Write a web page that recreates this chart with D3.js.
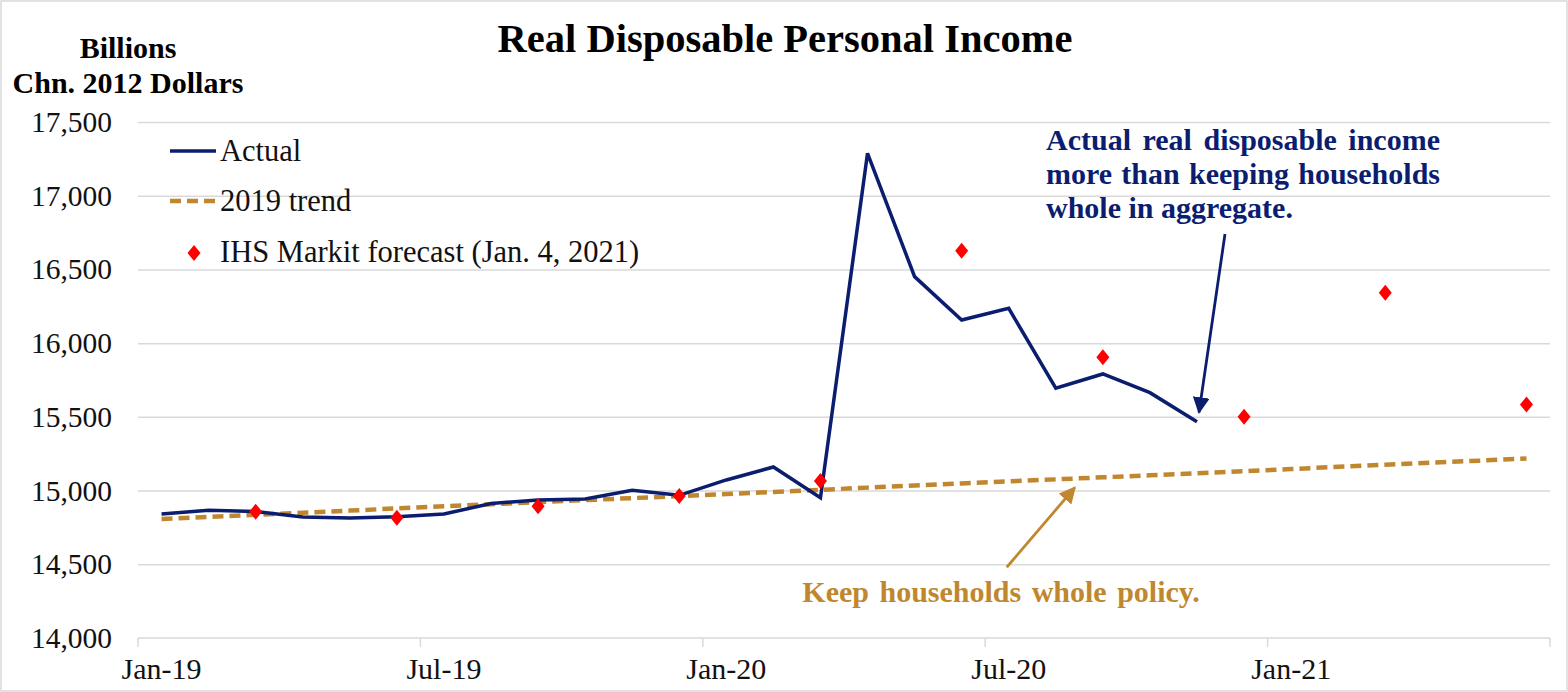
<!DOCTYPE html>
<html>
<head>
<meta charset="utf-8">
<script src="https://cdn.jsdelivr.net/npm/d3@7"></script>
<style>
  body { margin: 0; background: #fff; }
  svg { display: block; font-family: "Liberation Serif", "Times New Roman", serif; }
</style>
</head>
<body>
<svg id="chart" width="1568" height="692"></svg>
<script>
// months on the category axis (Jan-19 .. Jun-21)
const months = [
  "Jan-19", "Feb-19", "Mar-19", "Apr-19", "May-19", "Jun-19",
  "Jul-19", "Aug-19", "Sep-19", "Oct-19", "Nov-19", "Dec-19",
  "Jan-20", "Feb-20", "Mar-20", "Apr-20", "May-20", "Jun-20",
  "Jul-20", "Aug-20", "Sep-20", "Oct-20", "Nov-20", "Dec-20",
  "Jan-21", "Feb-21", "Mar-21", "Apr-21", "May-21", "Jun-21"
];
const xLabels = ["Jan-19", "Jul-19", "Jan-20", "Jul-20", "Jan-21"];
const yTicks = [14000, 14500, 15000, 15500, 16000, 16500, 17000, 17500];

// actual real disposable personal income, Jan-19 .. Nov-20
const actual = [
  14841, 14866, 14858, 14821, 14814, 14822, 14841, 14912, 14936, 14943, 15002, 14968,
  15072, 15160, 14951, 17288, 16451, 16157, 16236, 15694, 15791, 15664, 15467
];

// 2019 trend, Jan-19 .. Jun-21
const trend = [
  14808, 14822, 14836, 14850, 14864, 14879, 14893, 14907, 14921, 14935,
  14949, 14963, 14977, 14991, 15005, 15020, 15034, 15048, 15062, 15076,
  15090, 15104, 15118, 15132, 15146, 15161, 15175, 15189, 15203, 15217
];

// IHS Markit forecast (quarterly)
const forecastMonths = ["Mar-19", "Jun-19", "Sep-19", "Dec-19", "Mar-20",
                        "Jun-20", "Sep-20", "Dec-20", "Mar-21", "Jun-21"];
const forecastValues = [14857, 14816, 14893, 14964, 15065,
                        16627, 15905, 15501, 16342, 15583];

const navy = "#0b1d6f";
const gold = "#c0872f";

const svg = d3.select("#chart");

// outer frame
svg.append("rect")
  .attr("x", 1).attr("y", 1).attr("width", 1566).attr("height", 690)
  .attr("fill", "none").attr("stroke", "#d9d9d9").attr("stroke-width", 1.5);

const plotLeft = 138, plotRight = 1550, plotTop = 122, plotBottom = 638;

const x = d3.scaleBand().domain(months).range([plotLeft, plotRight]).padding(0);
const xc = (m) => x(m) + x.bandwidth() / 2;
const y = d3.scaleLinear().domain([14000, 17500]).range([plotBottom, plotTop]);

// gridlines
svg.append("g")
  .attr("transform", `translate(${plotLeft},0)`)
  .call(d3.axisLeft(y).tickValues(yTicks.slice(1)).tickSize(-(plotRight - plotLeft)).tickFormat(""))
  .call((g) => g.select(".domain").remove())
  .call((g) => g.selectAll("line").attr("stroke", "#d9d9d9").attr("stroke-width", 1.5));

// y tick labels
svg.append("g")
  .attr("transform", `translate(${plotLeft},0)`)
  .call(d3.axisLeft(y).tickValues(yTicks).tickSize(0).tickPadding(26).tickFormat(d3.format(",")))
  .call((g) => g.select(".domain").remove())
  .call((g) => g.selectAll("text")
    .attr("font-family", "Liberation Serif").attr("font-size", 29.5).attr("fill", "#111"));

// x axis line + tick marks at month boundaries
svg.append("line")
  .attr("x1", plotLeft).attr("x2", plotRight).attr("y1", plotBottom).attr("y2", plotBottom)
  .attr("stroke", "#d9d9d9").attr("stroke-width", 1.5);

const tickEdges = months.filter((m, i) => i % 6 === 0).map((m) => x(m)).concat([plotRight]);
svg.append("g").selectAll("line")
  .data(tickEdges)
  .join("line")
  .attr("x1", (d) => d).attr("x2", (d) => d)
  .attr("y1", plotBottom).attr("y2", plotBottom + 9)
  .attr("stroke", "#d9d9d9").attr("stroke-width", 1.5);

svg.append("g")
  .attr("transform", `translate(0,${plotBottom})`)
  .call(d3.axisBottom(x).tickValues(xLabels).tickSize(0).tickPadding(20))
  .call((g) => g.select(".domain").remove())
  .call((g) => g.selectAll("text")
    .attr("font-family", "Liberation Serif").attr("font-size", 30).attr("fill", "#111"));

// 2019 trend
const line = d3.line().x((d) => xc(d[0])).y((d) => y(d[1]));
svg.append("path")
  .datum(trend.map((v, i) => [months[i], v]))
  .attr("d", line)
  .attr("fill", "none").attr("stroke", gold).attr("stroke-width", 4.5)
  .attr("stroke-dasharray", "11,6");

// actual
svg.append("path")
  .datum(actual.map((v, i) => [months[i], v]))
  .attr("d", line)
  .attr("fill", "none").attr("stroke", navy).attr("stroke-width", 3.5)
  .attr("stroke-linejoin", "miter");

// forecast diamonds
const diamond = "M0,-8L6.5,0L0,8L-6.5,0Z";
svg.append("g").selectAll("path")
  .data(forecastMonths.map((m, i) => [m, forecastValues[i]]))
  .join("path")
  .attr("d", diamond)
  .attr("transform", (d) => `translate(${xc(d[0])},${y(d[1])})`)
  .attr("fill", "#ff0000");

// title
svg.append("text")
  .attr("x", 785).attr("y", 52)
  .attr("text-anchor", "middle")
  .attr("font-size", 40.5).attr("font-weight", "bold").attr("fill", "#000")
  .text("Real Disposable Personal Income");

// y axis title
svg.append("text")
  .attr("text-anchor", "middle").attr("font-size", 30).attr("font-weight", "bold")
  .selectAll("tspan")
  .data(["Billions", "Chn. 2012 Dollars"])
  .join("tspan")
  .attr("x", 128).attr("y", (d, i) => 58 + i * 35)
  .text((d) => d);

// legend
const legend = svg.append("g").attr("font-size", 30.5).attr("fill", "#111");
legend.append("line")
  .attr("x1", 170).attr("x2", 216).attr("y1", 151).attr("y2", 151)
  .attr("stroke", navy).attr("stroke-width", 3.5);
legend.append("text").attr("x", 220).attr("y", 161).text("Actual");
legend.append("line")
  .attr("x1", 170).attr("x2", 216).attr("y1", 201).attr("y2", 201)
  .attr("stroke", gold).attr("stroke-width", 4.5).attr("stroke-dasharray", "11,6");
legend.append("text").attr("x", 220).attr("y", 211).text("2019 trend");
legend.append("path").attr("d", diamond).attr("transform", "translate(194,253)").attr("fill", "#ff0000");
legend.append("text").attr("x", 220).attr("y", 262).text("IHS Markit forecast (Jan. 4, 2021)");

// arrowheads
const defs = svg.append("defs");
[["arrowNavy", navy], ["arrowGold", gold]].forEach(([id, c]) => {
  defs.append("marker")
    .attr("id", id).attr("viewBox", "0 0 10 10")
    .attr("refX", 9).attr("refY", 5)
    .attr("markerWidth", 6).attr("markerHeight", 6)
    .attr("markerUnits", "strokeWidth")
    .attr("orient", "auto")
    .append("path").attr("d", "M0,0L10,5L0,10Z").attr("fill", c);
});

// navy annotation
const noteLines = ["Actual real disposable income", "more than keeping households", "whole in aggregate."];
const note = svg.append("g").attr("font-size", 30).attr("font-weight", "bold").attr("fill", navy);
noteLines.forEach((t, i) => {
  const el = note.append("text").attr("x", 1046).attr("y", 150 + i * 34).text(t);
  if (i < noteLines.length - 1) {
    const target = 394;
    const natural = el.node().getComputedTextLength();
    const gaps = t.split(" ").length - 1;
    el.attr("word-spacing", Math.max(0, (target - natural) / gaps));
  }
});
svg.append("line")
  .attr("x1", xc("Nov-20") + 28).attr("y1", y(16740))
  .attr("x2", xc("Nov-20") + 2).attr("y2", y(15530))
  .attr("stroke", navy).attr("stroke-width", 2.8)
  .attr("marker-end", "url(#arrowNavy)");

// gold annotation
svg.append("text")
  .attr("x", 1001).attr("y", 602).attr("text-anchor", "middle")
  .attr("font-size", 30).attr("font-weight", "bold").attr("fill", gold)
  .attr("word-spacing", 3)
  .text("Keep households whole policy.");
svg.append("line")
  .attr("x1", xc("Jul-20") - 2).attr("y1", y(14480))
  .attr("x2", xc("Aug-20") + 19).attr("y2", y(15020))
  .attr("stroke", gold).attr("stroke-width", 2.8)
  .attr("marker-end", "url(#arrowGold)");
</script>
</body>
</html>
